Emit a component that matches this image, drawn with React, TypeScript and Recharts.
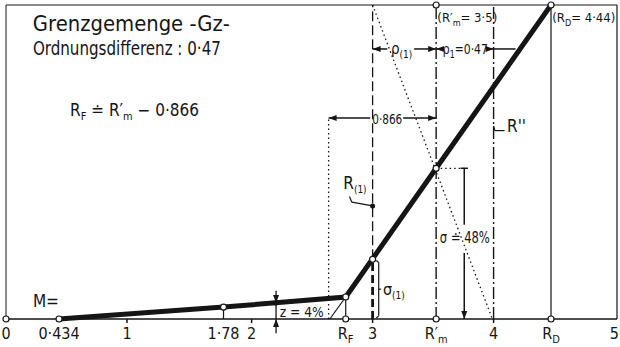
import React from 'react'
import { ComposedChart, Line, XAxis, YAxis, ReferenceLine, ReferenceDot } from 'recharts'

// the sketch is not to scale: x values are where things sit on the drawn axis
const curveX = [0.434, 1.78, 2.78, 3.52, 4.46]
const curveY = [0, 3.8, 7, 48, 100] // percent
const tickValues = [0, 0.434, 0.99, 1.78, 2.01, 2.78, 3.0, 3.52, 3.99, 4.46, 5]
const tickLabels = ['0', '0·434', '1', '1·78', '2', 'R|F', '3', "R′|m", '4', 'R|D', '5']
const minorTicks = [0.99, 2.01, 3.0, 3.99]
const baseCircles = [0, 0.434, 2.78, 3.52, 4.46]
const markX = [1.78, 2.78, 3.0, 3.52]
const markY = [3.8, 7, 19, 48]

const rF = 2.78
const rFcalc = 2.64
const r1 = 3.0
const rM = 3.52
const four = 3.99
const rD = 4.46
const zAt = 2.21
const sigmaAt = 3.75
const rhoY = 86
const diffY = 64

const data = curveX.map((x, i) => ({ x, y: curveY[i] }))

const INK = '#151515'
const FONT = '"DejaVu Sans Condensed", "Liberation Sans Narrow", "Open Sans", sans-serif'

// base + lowered index + trailing text on the normal line
const withSub = (base: string, s: string, rest = '', size = 10) => (
  <>
    {base}
    <tspan fontSize={size} dy={4}>{s}</tspan>
    <tspan dy={-4}>{rest}</tspan>
  </>
)

const txt = (content: React.ReactNode, size = 14, anchor: 'start' | 'middle' | 'end' = 'start', len?: number) =>
  (p: any) => (
    <text x={p.cx} y={p.cy} fontSize={size} textAnchor={anchor} fontFamily={FONT} fill={INK}
      textLength={len} lengthAdjust={len ? 'spacingAndGlyphs' : undefined}>
      {content}
    </text>
  )

const arrow = (dir: 'left' | 'right' | 'up' | 'down') => (p: any) => {
  const { cx, cy } = p
  const pts = {
    left: `${cx},${cy} ${cx + 8},${cy - 3} ${cx + 8},${cy + 3}`,
    right: `${cx},${cy} ${cx - 8},${cy - 3} ${cx - 8},${cy + 3}`,
    up: `${cx},${cy} ${cx - 3},${cy + 8} ${cx + 3},${cy + 8}`,
    down: `${cx},${cy} ${cx - 3},${cy - 8} ${cx + 3},${cy - 8}`,
  }[dir]
  return <polygon points={pts} fill={INK} />
}

const openDot = (p: any) => <circle cx={p.cx} cy={p.cy} r={3} fill="#fff" stroke={INK} strokeWidth={1.2} />
const blackDot = (p: any) => <circle cx={p.cx} cy={p.cy} r={2.5} fill={INK} />

const AxisTick = ({ x, y, payload }: any) => {
  const i = tickValues.indexOf(payload.value)
  const [base, s] = (tickLabels[i] ?? '').split('|')
  const last = i === tickValues.length - 1
  return (
    <g>
      {minorTicks.includes(payload.value) && <line x1={x} x2={x} y1={y} y2={y + 4} stroke={INK} strokeWidth={1.5} />}
      <text x={last ? x + 2 : x} y={y + 20} fontSize={16} textAnchor={last ? 'end' : 'middle'} fontFamily={FONT} fill={INK}>
        {base}
        {s && <tspan fontSize={11} dy={4}>{s}</tspan>}
      </text>
    </g>
  )
}

const seg = (x1: number, y1: number, x2: number, y2: number, style: any = {}) => (
  <ReferenceLine segment={[{ x: x1, y: y1 }, { x: x2, y: y2 }]} stroke={INK} strokeWidth={1.2}
    ifOverflow="visible" {...style} />
)

const dotted = { strokeDasharray: '1.5 3', strokeWidth: 1.3 }
const dashDot = { strokeDasharray: '12 3 2 3', strokeWidth: 1.4 }

export default function App() {
  return (
    <div style={{ position: 'absolute', left: 0, top: 0, width: 620, height: 347, background: '#fff' }}>
      <ComposedChart width={620} height={347} data={data} margin={{ top: 5, right: 3, left: 6, bottom: 0 }}>
        <XAxis dataKey="x" type="number" domain={[0, 5]} ticks={tickValues} interval={0}
          tick={<AxisTick />} tickSize={0} tickMargin={0} axisLine={false} tickLine={false} height={28} />
        <YAxis type="number" domain={[0, 100]} hide />

        {/* frame and base line */}
        <ReferenceLine y={0} stroke={INK} strokeWidth={1.6} />
        <ReferenceLine y={100} stroke={INK} strokeWidth={1} />
        <ReferenceLine x={0} stroke={INK} strokeWidth={1} />
        <ReferenceLine x={5} stroke={INK} strokeWidth={1.2} />

        {/* construction lines */}
        {seg(rFcalc, 0, rFcalc, diffY, dotted)}
        {seg(r1, 19, r1, 100, { strokeDasharray: '10 4', strokeWidth: 1.3 })}
        {seg(r1, 0, r1, 19, { strokeDasharray: '8 4', strokeWidth: 2.8 })}
        {seg(rM, 0, rM, 100, dashDot)}
        {seg(four, 0, four, 100, dashDot)}
        {seg(rD, 0, rD, 100, { strokeWidth: 1.2 })}
        {seg(r1, 100, 3.98, 0, dotted)}
        {seg(rM, 48, sigmaAt, 48, dotted)}

        {/* small verticals under the curve */}
        {seg(1.78, 0, 1.78, 3.8)}
        {seg(rF, 0, rF, 7)}
        {seg(rF, 7, 2.65, 0)}

        {/* 0.866 dimension */}
        {seg(rFcalc, diffY, 2.98, diffY, { strokeWidth: 1.5 })}
        {seg(3.25, diffY, rM, diffY, { strokeWidth: 1.5 })}
        <ReferenceDot x={rFcalc} y={diffY} shape={arrow('left')} />
        <ReferenceDot x={rM} y={diffY} shape={arrow('right')} />
        <ReferenceDot x={3.12} y={diffY - 1.8} shape={txt('0·866', 14, 'middle', 30)} />

        {/* rho dimensions */}
        {seg(r1, rhoY, 3.12, rhoY, { strokeWidth: 1.5 })}
        {seg(3.34, rhoY, rM, rhoY, { strokeWidth: 1.5 })}
        {seg(rM, rhoY, 3.56, rhoY, { strokeWidth: 1.5 })}
        {seg(3.96, rhoY, 4.17, rhoY, { strokeWidth: 1.5 })}
        <ReferenceDot x={r1} y={rhoY} shape={arrow('left')} />
        <ReferenceDot x={rM} y={rhoY} shape={arrow('right')} />
        <ReferenceDot x={rM} y={rhoY} shape={arrow('left')} />
        <ReferenceDot x={four} y={rhoY} shape={arrow('right')} />
        <ReferenceDot x={3.15} y={rhoY - 1.6} shape={txt(withSub('ρ', '(1)'), 15)} />
        <ReferenceDot x={3.575} y={rhoY - 1.6} shape={txt(withSub('ρ', '1', '=0·47'), 14, 'start', 45)} />

        {/* sigma dimension */}
        {seg(sigmaAt - 0.03, 48, sigmaAt + 0.03, 48, { strokeWidth: 1.5 })}
        {seg(sigmaAt, 48, sigmaAt, 30, { strokeWidth: 1.5 })}
        {seg(sigmaAt, 21, sigmaAt, 0, { strokeWidth: 1.5 })}
        <ReferenceDot x={sigmaAt} y={0} shape={arrow('down')} />
        <ReferenceDot x={3.55} y={24.2} shape={txt('σ ≐ 48%', 16, 'start', 50)} />

        {/* sigma(1) brace */}
        {seg(3.05, 1, 3.05, 18, { strokeWidth: 1.2 })}
        {seg(3.05, 18, 3.03, 18.6)}
        {seg(3.05, 1, 3.03, 0.3)}
        {seg(3.05, 9.5, 3.07, 9.5)}
        <ReferenceDot x={3.085} y={7.8} shape={txt(withSub('σ', '(1)'), 16)} />

        {/* z dimension */}
        {seg(zAt, 9, zAt, -4.5, { strokeWidth: 1.3 })}
        <ReferenceDot x={zAt} y={5.1} shape={arrow('down')} ifOverflow="visible" />
        <ReferenceDot x={zAt} y={0} shape={arrow('up')} ifOverflow="visible" />
        <ReferenceDot x={zAt} y={5.1} shape={blackDot} />
        <ReferenceDot x={2.24} y={0.7} shape={txt('z = 4%', 14, 'start', 44)} />

        {/* R(1) leader and R'' hook */}
        {seg(2.81, 39, 2.83, 37.2)}
        {seg(2.83, 37.2, r1, 36)}
        <ReferenceDot x={r1} y={36} shape={blackDot} />
        <ReferenceDot x={2.76} y={41.5} shape={txt(withSub('R', '(1)'), 17)} />
        {seg(four, 61.5, 4.0, 60)}
        {seg(4.0, 60, 4.08, 60)}
        <ReferenceDot x={4.1} y={59.5} shape={txt("R''", 17)} />

        {/* main curve */}
        <Line dataKey="y" type="linear" stroke={INK} strokeWidth={5} dot={false} isAnimationActive={false} />
        {markX.map((x, i) => <ReferenceDot key={x} x={x} y={markY[i]} shape={openDot} />)}
        {baseCircles.map(x => <ReferenceDot key={'b' + x} x={x} y={0} shape={openDot} />)}
        <ReferenceDot x={rM} y={100} shape={openDot} />
        <ReferenceDot x={rD} y={100} shape={openDot} />

        {/* headings */}
        <ReferenceDot x={0.22} y={91.7} shape={txt('Grenzgemenge  -Gz-', 21, 'start', 197)} />
        <ReferenceDot x={0.22} y={84} shape={txt('Ordnungsdifferenz : 0·47', 20, 'start', 188)} />
        <ReferenceDot x={0.524} y={64.5} shape={txt(<>{withSub('R', 'F', ' ≐ R′', 11)}{withSub('', 'm', ' − 0·866', 11)}</>, 17)} />
        <ReferenceDot x={0.22} y={3.9} shape={txt('M=', 17)} />
        <ReferenceDot x={3.53} y={94.5} shape={txt(withSub('(R′', 'm', '= 3·5)', 9), 13)} />
        <ReferenceDot x={4.47} y={94.5} shape={txt(withSub('(R', 'D', '= 4·44)', 9), 13)} />
      </ComposedChart>
    </div>
  )
}
